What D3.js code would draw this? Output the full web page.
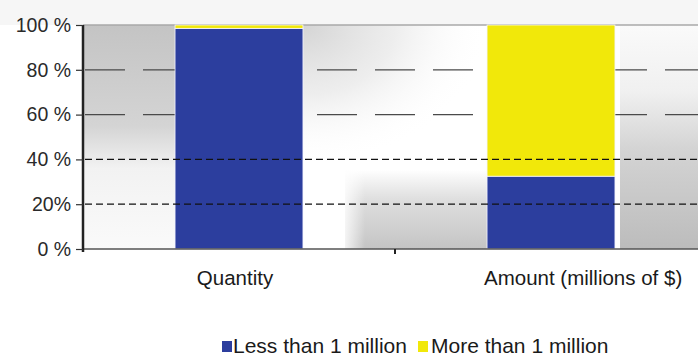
<!DOCTYPE html>
<html>
<head>
<meta charset="utf-8">
<script src="https://cdn.jsdelivr.net/npm/d3@7"></script>
<style>
  body { margin: 0; background: #fff; }
  svg { display: block; font-family: "Liberation Sans", Arial, sans-serif; }
</style>
</head>
<body>
<div id="chart"></div>
<script>
// data
var categories = ["Quantity", "Amount (millions of $)"];
var seriesNames = ["Less than 1 million", "More than 1 million"];
var lessThan1M = [98.5, 32.5];
var moreThan1M = [1.5, 67.5];
var yTicks = [0, 20, 40, 60, 80, 100];
var yTickLabels = ["0 %", "20%", "40 %", "60 %", "80 %", "100 %"];
var colors = ["#2c3e9e", "#f1e80a"];

var width = 698, height = 358;
var margin = {top: 25, left: 83, bottom: 109};

var svg = d3.select("#chart").append("svg")
    .attr("width", width)
    .attr("height", height);

var defs = svg.append("defs");
function grad(id, x1, y1, x2, y2, stops) {
    var g = defs.append("linearGradient").attr("id", id)
        .attr("x1", x1).attr("y1", y1).attr("x2", x2).attr("y2", y2);
    stops.forEach(function(s) {
        g.append("stop").attr("offset", s[0]).attr("stop-color", s[1]).attr("stop-opacity", s[2] == null ? 1 : s[2]);
    });
}
function rgrad(id, cx, cy, r, stops) {
    var g = defs.append("radialGradient").attr("id", id)
        .attr("cx", cx).attr("cy", cy).attr("r", r);
    stops.forEach(function(s) {
        g.append("stop").attr("offset", s[0]).attr("stop-color", s[1]).attr("stop-opacity", s[2] == null ? 1 : s[2]);
    });
}
grad("gLeft", 0, 0, 0, 1, [[0, "#c4c4c4"], [0.45, "#d4d4d4"], [0.64, "#f2f2f2"], [1, "#fafafa"]]);
rgrad("gMidTop", 0, 0, 1, [[0, "#d4d4d4", 1], [0.5, "#e6e6e6", 0.7], [1, "#ffffff", 0]]);
grad("gMidLow", 0, 0, 0, 1, [[0, "#d0d0d0", 0], [0.4, "#d4d4d4", 0.8], [1, "#c4c4c4", 1]]);
grad("gMidLowEdge", 0, 0, 1, 0, [[0, "#ffffff", 1], [1, "#ffffff", 0]]);
grad("gRight", 0, 0, 0, 1, [[0, "#fafafa"], [0.3, "#f0f0f0"], [0.55, "#d4d4d4"], [1, "#bcbcbc"]]);

var x = d3.scaleBand()
    .domain(categories)
    .range([margin.left, margin.left + 624])
    .paddingInner(0.59)
    .paddingOuter(0.295);

var y = d3.scaleLinear()
    .domain([0, 100])
    .range([height - margin.bottom, margin.top]);

var plotTop = y(100), plotBottom = y(0);

// background texture (approximation)
svg.append("rect").attr("x", 0).attr("y", 0).attr("width", width).attr("height", plotTop)
    .attr("fill", "#f6f6f6");
var bg = svg.append("g");
bg.append("rect").attr("x", margin.left).attr("y", plotTop).attr("width", width - margin.left).attr("height", plotBottom - plotTop)
    .attr("fill", "#ffffff");
bg.append("rect").attr("x", margin.left + 1).attr("y", plotTop).attr("width", 92).attr("height", plotBottom - plotTop)
    .attr("fill", "url(#gLeft)");
bg.append("rect").attr("x", 303).attr("y", plotTop).attr("width", 185).attr("height", 140)
    .attr("fill", "url(#gMidTop)");
bg.append("rect").attr("x", 345).attr("y", 170).attr("width", 143).attr("height", plotBottom - 170)
    .attr("fill", "url(#gMidLow)");
bg.append("rect").attr("x", 340).attr("y", 170).attr("width", 25).attr("height", plotBottom - 170)
    .attr("fill", "url(#gMidLowEdge)");
bg.append("rect").attr("x", 620).attr("y", plotTop).attr("width", width - 620).attr("height", plotBottom - plotTop)
    .attr("fill", "url(#gRight)");

// long-dash gridlines (behind bars)
svg.append("g").selectAll("line")
    .data([60, 80])
    .enter().append("line")
    .attr("x1", margin.left + 2).attr("x2", width)
    .attr("y1", function(d) { return y(d); }).attr("y2", function(d) { return y(d); })
    .attr("stroke", "#4a4a4a").attr("stroke-width", 1.2)
    .attr("stroke-dasharray", "40,18");

// top border
svg.append("line")
    .attr("x1", margin.left).attr("x2", width)
    .attr("y1", plotTop).attr("y2", plotTop)
    .attr("stroke", "#a8a8a8").attr("stroke-width", 1.5);

// stacked bars
var rows = categories.map(function(c, i) { return {cat: c, less: lessThan1M[i], more: moreThan1M[i]}; });
var stack = d3.stack().keys(["less", "more"]);
var layers = stack(rows);

svg.append("g").selectAll("g")
    .data(layers)
    .enter().append("g")
    .attr("fill", function(d, i) { return colors[i]; })
    .selectAll("rect")
    .data(function(d) { return d; })
    .enter().append("rect")
    .attr("x", function(d) { return x(d.data.cat); })
    .attr("y", function(d) { return y(d[1]); })
    .attr("width", x.bandwidth())
    .attr("height", function(d) { return y(d[0]) - y(d[1]); })
    .attr("stroke", "#f4f4ff").attr("stroke-width", 0.8);

// short-dash gridlines (over bars)
svg.append("g").selectAll("line")
    .data([20, 40])
    .enter().append("line")
    .attr("x1", margin.left + 2).attr("x2", width)
    .attr("y1", function(d) { return y(d); }).attr("y2", function(d) { return y(d); })
    .attr("stroke", "#111").attr("stroke-width", 1.3)
    .attr("stroke-dasharray", "7,4");

// x axis baseline
svg.append("line")
    .attr("x1", margin.left).attr("x2", width)
    .attr("y1", plotBottom).attr("y2", plotBottom)
    .attr("stroke", "#555").attr("stroke-width", 1.5);
// tick between categories
svg.append("line")
    .attr("x1", margin.left + x.step()).attr("x2", margin.left + x.step())
    .attr("y1", plotBottom).attr("y2", plotBottom + 5)
    .attr("stroke", "#222").attr("stroke-width", 2);

// y axis
var yAxis = d3.axisLeft(y)
    .tickValues(yTicks)
    .tickSize(7)
    .tickPadding(5)
    .tickFormat(function(d, i) { return yTickLabels[i]; });

var gy = svg.append("g")
    .attr("transform", "translate(" + margin.left + ",0)")
    .call(yAxis);
gy.select(".domain").attr("stroke", "#222").attr("stroke-width", 2.5)
    .attr("d", "M0," + (plotTop) + "V" + (plotBottom + 3));
gy.selectAll(".tick line").attr("stroke", "#333").attr("stroke-width", 1.2);
gy.selectAll(".tick text")
    .attr("font-family", "'Liberation Sans', Arial, sans-serif")
    .attr("font-size", 19.5)
    .attr("fill", "#2a2a2a");

// category labels
svg.append("g").selectAll("text")
    .data(categories)
    .enter().append("text")
    .attr("x", function(d, i) { return i === 0 ? x(d) + x.bandwidth() / 2 - 4 : 484; })
    .attr("y", 285)
    .attr("text-anchor", function(d, i) { return i === 0 ? "middle" : "start"; })
    .attr("font-size", 20.5)
    .attr("fill", "#1a1a1a")
    .text(function(d) { return d; });

// legend
var legend = svg.append("g");
var legendX = [222, 418];
var legendItem = legend.selectAll("g")
    .data(seriesNames)
    .enter().append("g")
    .attr("transform", function(d, i) { return "translate(" + legendX[i] + ",341)"; });
legendItem.append("rect")
    .attr("width", 10).attr("height", 11)
    .attr("fill", function(d, i) { return colors[i]; });
legendItem.append("text")
    .attr("x", function(d, i) { return i === 0 ? 11 : 13; })
    .attr("y", 12)
    .attr("font-size", 21)
    .attr("fill", "#1a1a1a")
    .text(function(d) { return d; });
</script>
</body>
</html>
